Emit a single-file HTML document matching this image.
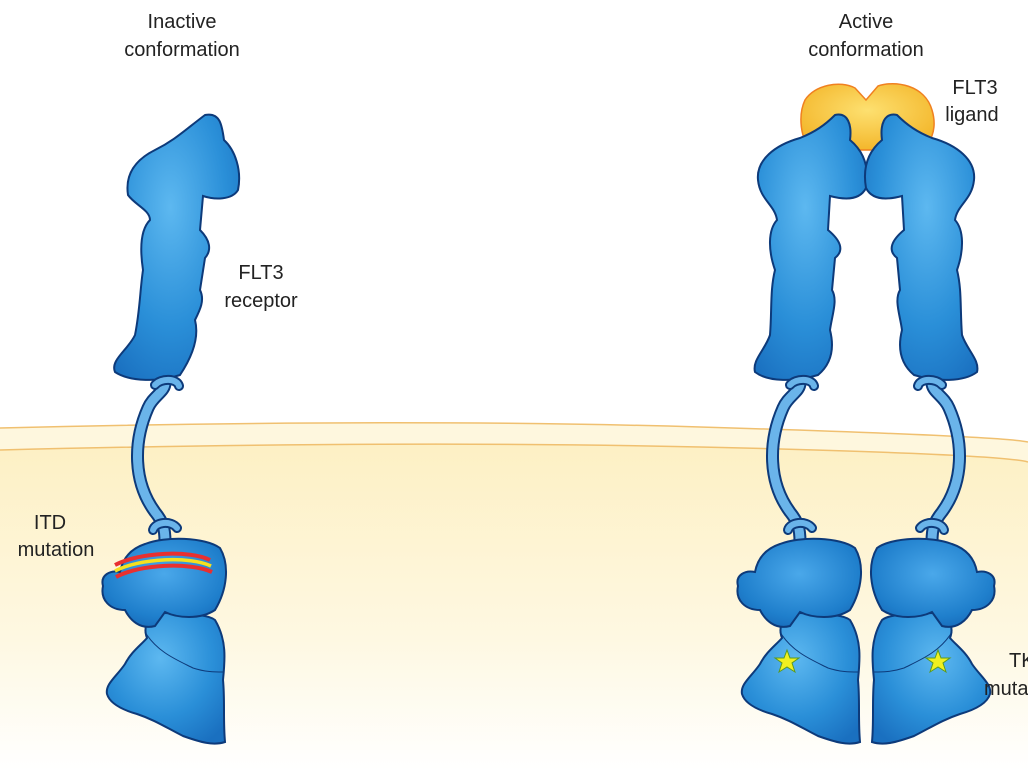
<!DOCTYPE html>
<html><head><meta charset="utf-8"><style>
html,body{margin:0;padding:0;background:#fff;}
svg{display:block;}
text{font-family:"Liberation Sans",sans-serif;font-size:20px;fill:#222;}
</style></head><body>
<svg width="1028" height="770" viewBox="0 0 1028 770" xmlns="http://www.w3.org/2000/svg">
<defs>
<linearGradient id="cyto" x1="0" y1="0" x2="0" y2="1">
<stop offset="0" stop-color="#fdf0c4"/><stop offset="0.6" stop-color="#fef8e2"/><stop offset="1" stop-color="#ffffff"/>
</linearGradient>
<radialGradient id="blue" cx="0.45" cy="0.35" r="0.75">
<stop offset="0" stop-color="#5db8f0"/><stop offset="0.6" stop-color="#2a8fd8"/><stop offset="1" stop-color="#1a70c0"/>
</radialGradient>
<radialGradient id="blue2" cx="0.5" cy="0.4" r="0.7">
<stop offset="0" stop-color="#4aa8ea"/><stop offset="0.7" stop-color="#1f7fcc"/><stop offset="1" stop-color="#1565b5"/>
</radialGradient>
<radialGradient id="gold" cx="0.5" cy="0.4" r="0.7">
<stop offset="0" stop-color="#fde070"/><stop offset="1" stop-color="#f2b020"/>
</radialGradient>
<g id="lower">
<path d="M800 383 C800 392 788 396 783 408 C768 442 768 482 790 512 C798 522 800 528 800 542" fill="none" stroke="#0d3a7a" stroke-width="13" stroke-linecap="round"/>
<path d="M800 383 C800 392 788 396 783 408 C768 442 768 482 790 512 C798 522 800 528 800 542" fill="none" stroke="#6ab4ea" stroke-width="9" stroke-linecap="round"/>
<path d="M790 385 C796 378 812 378 814 386" fill="none" stroke="#0d3a7a" stroke-width="10" stroke-linecap="round"/>
<path d="M790 385 C796 378 812 378 814 386" fill="none" stroke="#6ab4ea" stroke-width="6" stroke-linecap="round"/>
<path d="M788 530 C790 522 806 520 812 528" fill="none" stroke="#0d3a7a" stroke-width="10" stroke-linecap="round"/>
<path d="M788 530 C790 522 806 520 812 528" fill="none" stroke="#6ab4ea" stroke-width="6" stroke-linecap="round"/>
<path d="M790 612 C810 615 840 612 850 620 C862 640 860 660 858 680 C860 700 858 720 860 742 C848 746 835 742 818 736 C802 728 790 720 772 714 C758 710 745 704 742 694 C740 684 752 676 760 664 C766 652 776 645 782 638 C778 628 782 620 790 612 Z" fill="url(#blue)" stroke="#0d3a7a" stroke-width="2"/>
<path d="M780 632 C792 652 812 660 828 668 C840 672 850 672 858 672" fill="none" stroke="#0d3a7a" stroke-width="1"/>
<path d="M780 544 C800 536 840 537 855 548 C865 565 862 590 850 610 C835 620 812 618 800 612 L790 626 C775 630 765 620 760 610 C745 610 735 600 738 586 C735 575 745 570 755 572 C758 556 768 548 780 544 Z" fill="url(#blue2)" stroke="#0d3a7a" stroke-width="2"/>
</g>
<g id="upperA">
<path d="M835 115 C848 112 852 125 850 140 C862 150 870 165 866 188 C860 200 845 200 830 196 L828 230 C840 240 845 250 835 258 L832 290 C838 300 832 315 830 330 C835 350 830 365 818 375 C795 382 768 382 755 372 C752 360 765 350 770 335 C772 310 770 290 775 270 C768 250 768 230 777 220 C775 205 760 200 758 180 C756 160 775 145 800 138 C815 132 825 125 835 115 Z" fill="url(#blue)" stroke="#0d3a7a" stroke-width="2"/>
</g>
</defs>
<path d="M0 428 Q400 418 700 427 T1028 442 L1028 770 L0 770 Z" fill="#fef7de"/>
<path d="M0 450 Q400 440 700 447 T1028 462 L1028 770 L0 770 Z" fill="url(#cyto)"/>
<path d="M0 428 Q400 418 700 427 T1028 442" fill="none" stroke="#f0c070" stroke-width="1.5"/>
<path d="M0 450 Q400 440 700 447 T1028 462" fill="none" stroke="#f0c070" stroke-width="1.5"/>

<path d="M205 115 C220 112 222 125 224 140 C235 150 242 170 238 190 C232 200 215 200 203 196 L200 230 C210 240 212 250 205 258 L200 290 C205 300 200 310 195 320 C200 340 190 360 180 375 C160 382 130 382 115 372 C110 360 128 350 135 335 C140 310 140 290 143 270 C140 250 140 230 150 220 C150 210 135 205 128 195 C125 175 135 160 155 150 C175 140 185 130 205 115 Z" fill="url(#blue)" stroke="#0d3a7a" stroke-width="2"/>
<use href="#lower" transform="translate(-635,0)"/>
<path d="M115 565 C140 552 190 550 210 560" fill="none" stroke="#e83030" stroke-width="4"/>
<path d="M115 571 C140 558 190 556 211 566" fill="none" stroke="#f5e020" stroke-width="3.5"/>
<path d="M116 577 C140 564 190 562 212 572" fill="none" stroke="#e83030" stroke-width="4"/>

<path d="M805 100 C815 85 840 80 855 88 L866 100 L878 86 C895 80 925 85 932 110 C938 130 930 145 920 150 L812 150 C800 140 798 115 805 100 Z" fill="url(#gold)" stroke="#f08020" stroke-width="1.5"/>
<use href="#upperA"/>
<use href="#upperA" transform="translate(1732,0) scale(-1,1)"/>
<use href="#lower"/>
<use href="#lower" transform="translate(1732,0) scale(-1,1)"/>
<polygon points="787,650 790,658 799,658 792,663 795,672 787,667 779,672 782,663 775,658 784,658" fill="#f0f020" stroke="#5a9a20" stroke-width="1"/>
<polygon points="938,650 941,658 950,658 943,663 946,672 938,667 930,672 933,663 926,658 935,658" fill="#f0f020" stroke="#5a9a20" stroke-width="1"/>

<text x="182" y="28" text-anchor="middle">Inactive</text>
<text x="182" y="56" text-anchor="middle">conformation</text>
<text x="866" y="28" text-anchor="middle">Active</text>
<text x="866" y="56" text-anchor="middle">conformation</text>
<text x="975" y="94" text-anchor="middle">FLT3</text>
<text x="972" y="121" text-anchor="middle">ligand</text>
<text x="261" y="279" text-anchor="middle">FLT3</text>
<text x="261" y="307" text-anchor="middle">receptor</text>
<text x="50" y="529" text-anchor="middle">ITD</text>
<text x="56" y="556" text-anchor="middle">mutation</text>
<text x="1009" y="667">TKD</text>
<text x="984" y="695">mutation</text>
</svg>
</body></html>
